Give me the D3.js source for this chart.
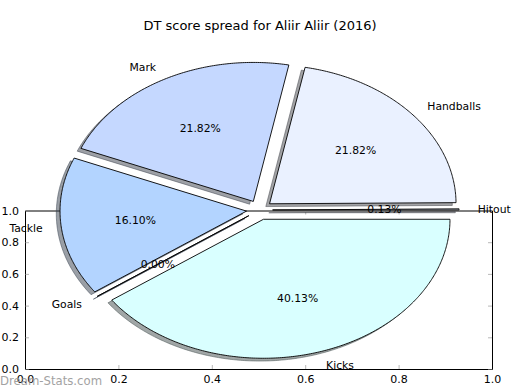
<!DOCTYPE html>
<html>
<head>
<meta charset="utf-8">
<script src="https://cdn.jsdelivr.net/npm/d3@7"></script>
<style>
	body { margin: 0; background: #fff; }
	text { font-family: "DejaVu Sans", sans-serif; }
</style>
</head>
<body>
<div id="graph"></div>
<script>
// slice data (DT points per stat), matplotlib order: counter-clockwise from 3 o'clock
const labels = ["Hitout", "Handballs", "Mark", "Tackle", "Goals", "Kicks"];
const values = [1, 168, 168, 124, 0, 309];
const colors = ["#E6F0FF", "#EAF1FF", "#C5D8FF", "#B3D4FF", "#A8CCFF", "#D9FFFF"];
const title = "DT score spread for Aliir Aliir (2016)";
// tick values of the empty 0..1 axes behind the pie
const ticks = [0, 0.2, 0.4, 0.6, 0.8, 1.0];

const width = 520, height = 390;

const svg = d3
	.select("#graph")
	.append("svg")
	.attr("width", width)
	.attr("height", height);

// the empty axes frame
const xa = d3.scaleLinear().domain([0, 1]).range([25, 492]);
const ya = d3.scaleLinear().domain([0, 1]).range([369, 210.5]);
const fmt = d3.format(".1f");

const frame = svg.append("g");
frame.append("g")
	.attr("transform", "translate(0," + ya(0) + ")")
	.call(d3.axisBottom(xa).tickValues(ticks).tickFormat(fmt).tickSizeInner(-4).tickSizeOuter(0).tickPadding(6));
frame.append("g")
	.attr("transform", "translate(0," + ya(1) + ")")
	.call(d3.axisTop(xa).tickValues(ticks).tickFormat("").tickSizeInner(-4).tickSizeOuter(0));
frame.append("g")
	.attr("transform", "translate(" + xa(0) + ",0)")
	.call(d3.axisLeft(ya).tickValues(ticks).tickFormat(fmt).tickSizeInner(-4).tickSizeOuter(0).tickPadding(6));
frame.append("g")
	.attr("transform", "translate(" + xa(1) + ",0)")
	.call(d3.axisRight(ya).tickValues(ticks).tickFormat("").tickSizeInner(-4).tickSizeOuter(0));
frame.selectAll(".domain").attr("stroke", "#000").attr("stroke-width", 1);
frame.selectAll(".tick line").attr("stroke", "#888").attr("stroke-width", 0.6);
frame.selectAll(".tick text").attr("fill", "#000").style("font-size", "11px");

// pie in "data" units, stretched like the matplotlib figure
const cx = 259.5, cy = 210, rx = 186.5, ry = 139;
const x = d3.scaleLinear().domain([-1, 1]).range([cx - rx, cx + rx]);
const y = d3.scaleLinear().domain([-1, 1]).range([cy + ry, cy - ry]);
const explode = 0.07;
const shadowOff = [-0.02, -0.02];

const pie = d3.pie().sort(null).startAngle(0).endAngle(2 * Math.PI);
const arcs = pie(values);

const line = d3.line().x((d) => x(d[0])).y((d) => y(d[1]));

function wedgePoints(d, dx, dy) {
	const mid = (d.startAngle + d.endAngle) / 2;
	const ox = explode * Math.cos(mid) + dx, oy = explode * Math.sin(mid) + dy;
	const n = Math.max(2, Math.ceil((d.endAngle - d.startAngle) / 0.01));
	const pts = [[ox, oy]];
	for (let i = 0; i <= n; i++) {
		const t = d.startAngle + (d.endAngle - d.startAngle) * i / n;
		pts.push([ox + Math.cos(t), oy + Math.sin(t)]);
	}
	pts.push([ox, oy]);
	return pts;
}

// shadows first, behind all wedges
svg.append("g")
	.selectAll("path")
	.data(arcs)
	.enter()
	.append("path")
	.attr("d", (d) => line(wedgePoints(d, shadowOff[0], shadowOff[1])))
	.attr("fill", (d, i) => {
		const c = d3.rgb(colors[i]);
		return d3.rgb(c.r * 0.3, c.g * 0.3, c.b * 0.3);
	})
	.attr("fill-opacity", 0.5)
	.attr("stroke", (d, i) => {
		const c = d3.rgb(colors[i]);
		return d3.rgb(c.r * 0.3, c.g * 0.3, c.b * 0.3);
	})
	.attr("stroke-opacity", 0.5)
	.attr("stroke-width", 1);

svg.append("g")
	.selectAll("path")
	.data(arcs)
	.enter()
	.append("path")
	.attr("d", (d) => line(wedgePoints(d, 0, 0)))
	.attr("fill", (d, i) => colors[i])
	.attr("stroke", "#000")
	.attr("stroke-width", 0.9)
	.attr("stroke-linejoin", "miter");

const total = d3.sum(values);

// outer labels at 1.1 radius
svg.append("g")
	.selectAll("text")
	.data(arcs)
	.enter()
	.append("text")
	.attr("x", (d) => {
		const m = (d.startAngle + d.endAngle) / 2;
		return x(explode * Math.cos(m) + 1.1 * Math.cos(m));
	})
	.attr("y", (d) => {
		const m = (d.startAngle + d.endAngle) / 2;
		return y(explode * Math.sin(m) + 1.1 * Math.sin(m));
	})
	.attr("dy", "0.35em")
	.attr("text-anchor", (d) => (Math.cos((d.startAngle + d.endAngle) / 2) > 0 ? "start" : "end"))
	.style("font-size", "10.8px")
	.text((d, i) => labels[i]);

// percentages at 0.6 radius
svg.append("g")
	.selectAll("text")
	.data(arcs)
	.enter()
	.append("text")
	.attr("x", (d) => {
		const m = (d.startAngle + d.endAngle) / 2;
		return x(explode * Math.cos(m) + 0.6 * Math.cos(m));
	})
	.attr("y", (d) => {
		const m = (d.startAngle + d.endAngle) / 2;
		return y(explode * Math.sin(m) + 0.6 * Math.sin(m));
	})
	.attr("dy", "0.35em")
	.attr("text-anchor", "middle")
	.style("font-size", "10.8px")
	.text((d) => (100 * d.value / total).toFixed(2) + "%");

svg.append("text")
	.attr("x", 260)
	.attr("y", 25)
	.attr("dy", "0.35em")
	.attr("text-anchor", "middle")
	.style("font-size", "13px")
	.text(title);

// watermark
svg.append("text")
	.attr("x", 0)
	.attr("y", 385)
	.attr("fill", "#999")
	.style("font-size", "11.7px")
	.style("opacity", 0.9)
	.text("Dream-Stats.com");
</script>
</body>
</html>
